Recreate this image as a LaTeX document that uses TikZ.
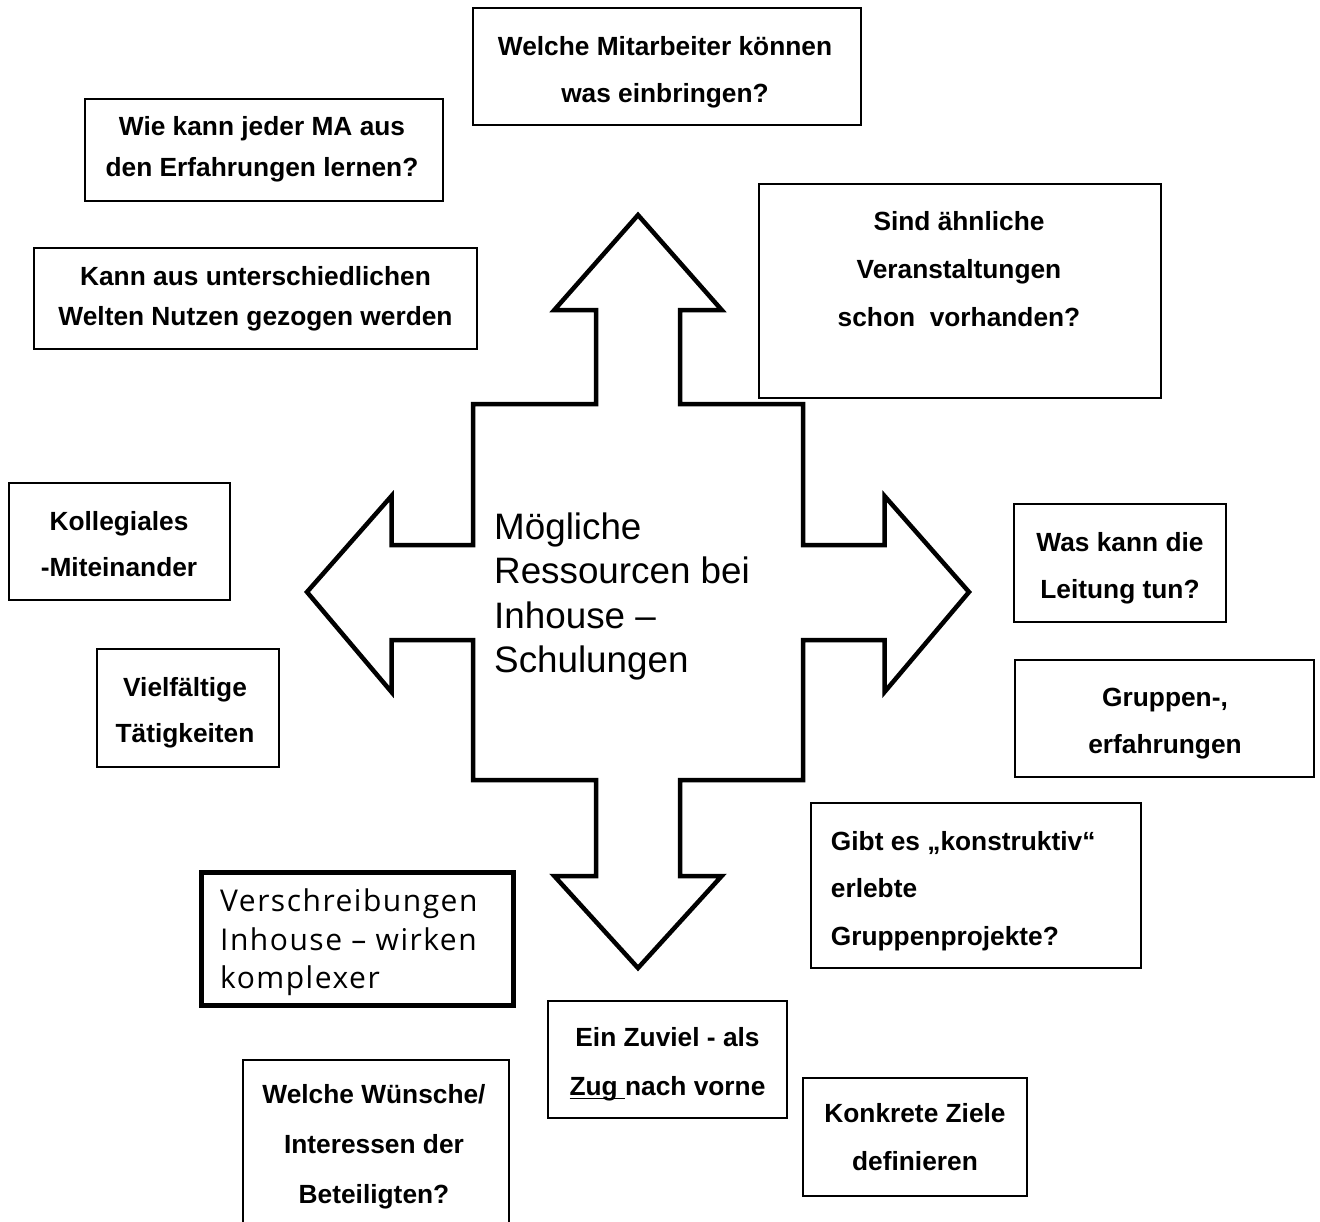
\documentclass[tikz,border=0pt]{standalone}
\usepackage{fontspec}
\setmainfont{Liberation Sans}
\newfontfamily\verfont[LetterSpace=5.0]{Open Sans}
\newcommand\mlines[4]{\fontsize{#1}{#2}\selectfont\begin{tabular}[t]{@{}#3@{}}#4\end{tabular}}
\newcommand\myuline[1]{\setbox0\hbox{#1}\rlap{\rule[-0.17em]{\wd0}{0.075em}}\box0}
\begin{document}
\begin{tikzpicture}[x=1pt,y=-1pt,
  box/.style={draw=black, line width=2pt, inner sep=0pt, rectangle},
  thickbox/.style={draw=black, line width=5pt, inner sep=0pt, rectangle},
  txt/.style={inner sep=0pt, anchor=base, font=\bfseries},
  bigarrow/.style={draw=black, line width=4.5pt, line join=miter, fill=white}]
\useasboundingbox (0,0) rectangle (1320,1221);
\fill[white] (0,0) rectangle (1320,1221);

% central four-way arrow
\draw[bigarrow] (638,215) -- (721.7,310) -- (680,310) -- (680,404) -- (803,404)
  -- (803,545) -- (884.5,545) -- (884.5,496) -- (969,592) -- (884.5,692)
  -- (884.5,640) -- (803,640) -- (803,780) -- (680,780) -- (680,876)
  -- (721.7,876) -- (638,968) -- (554.3,876) -- (596,876) -- (596,780)
  -- (473,780) -- (473,640) -- (391.5,640) -- (391.5,692) -- (307,592)
  -- (391.5,496) -- (391.5,545) -- (473,545) -- (473,404) -- (596,404)
  -- (596,310) -- (554.3,310) -- cycle;
\node[inner sep=0pt, anchor=base west] (center) at (494,539)
  {\mlines{36.8}{44.5}{l}{Mögliche\\Ressourcen bei\\Inhouse –\\Schulungen}};

% boxes
\node[box, minimum width=388, minimum height=117] (b1) at (667,66.5) {};
\node[box, minimum width=358, minimum height=102] (b2) at (264,150) {};
\node[box, minimum width=443, minimum height=101] (b3) at (255.5,298.5) {};
\node[box, minimum width=402, minimum height=214] (b4) at (960,291) {};
\node[box, minimum width=221, minimum height=117] (b5) at (119.5,541.5) {};
\node[box, minimum width=182, minimum height=118] (b6) at (188,708) {};
\node[box, minimum width=212, minimum height=118] (b7) at (1120,563) {};
\node[box, minimum width=299, minimum height=117] (b8) at (1164.5,718.5) {};
\node[box, minimum width=330, minimum height=165] (b9) at (976,885.5) {};
\node[thickbox, minimum width=312, minimum height=133] (b10) at (357.5,939) {};
\node[box, minimum width=239, minimum height=117] (b11) at (667.5,1059.5) {};
\node[box, minimum width=266, minimum height=180] (b12) at (376,1150) {};
\node[box, minimum width=224, minimum height=118] (b13) at (915,1137) {};

% texts
\node[txt] (t1) at (665,55) {\mlines{26.3}{47}{c}{Welche Mitarbeiter können\\was einbringen?}};
\node[txt] (t2) at (262,135) {\mlines{26.3}{41.7}{c}{Wie kann jeder MA aus\\den Erfahrungen lernen?}};
\node[txt] (t3) at (255.5,285) {\mlines{26.3}{40}{c}{Kann aus unterschiedlichen\\Welten Nutzen gezogen werden}};
\node[txt] (t4) at (959,230) {\mlines{26.3}{48.3}{c}{Sind ähnliche\\Veranstaltungen\\schon\ \ vorhanden?}};
\node[txt] (t5) at (119,530) {\mlines{26.3}{46.5}{c}{Kollegiales\\-Miteinander}};
\node[txt] (t6) at (185,696) {\mlines{26.3}{46}{c}{Vielfältige\\Tätigkeiten}};
\node[txt] (t7) at (1120,551) {\mlines{26.3}{47}{c}{Was kann die\\Leitung tun?}};
\node[txt] (t8) at (1165,706) {\mlines{26.3}{47.5}{c}{Gruppen-,\\erfahrungen}};
\node[txt, anchor=base west] (t9) at (830.7,850) {\mlines{26.3}{47.5}{l}{Gibt es „konstruktiv“\\erlebte\\Gruppenprojekte?}};
\node[inner sep=0pt, anchor=base west] (t10) at (220,911.7) {\verfont\mlines{30}{38.3}{l}{Verschreibungen\\Inhouse – wirken\\komplexer}};
\node[txt] (t11) at (667.5,1046.7) {\mlines{26.3}{48.3}{c}{Ein Zuviel - als\\\myuline{Zug\ }nach vorne}};
\node[txt] (t12) at (374,1103) {\mlines{26.3}{50}{c}{Welche Wünsche/\\Interessen der\\Beteiligten?}};
\node[txt] (t13) at (915,1122) {\mlines{26.3}{48}{c}{Konkrete Ziele\\definieren}};
\end{tikzpicture}
\end{document}
